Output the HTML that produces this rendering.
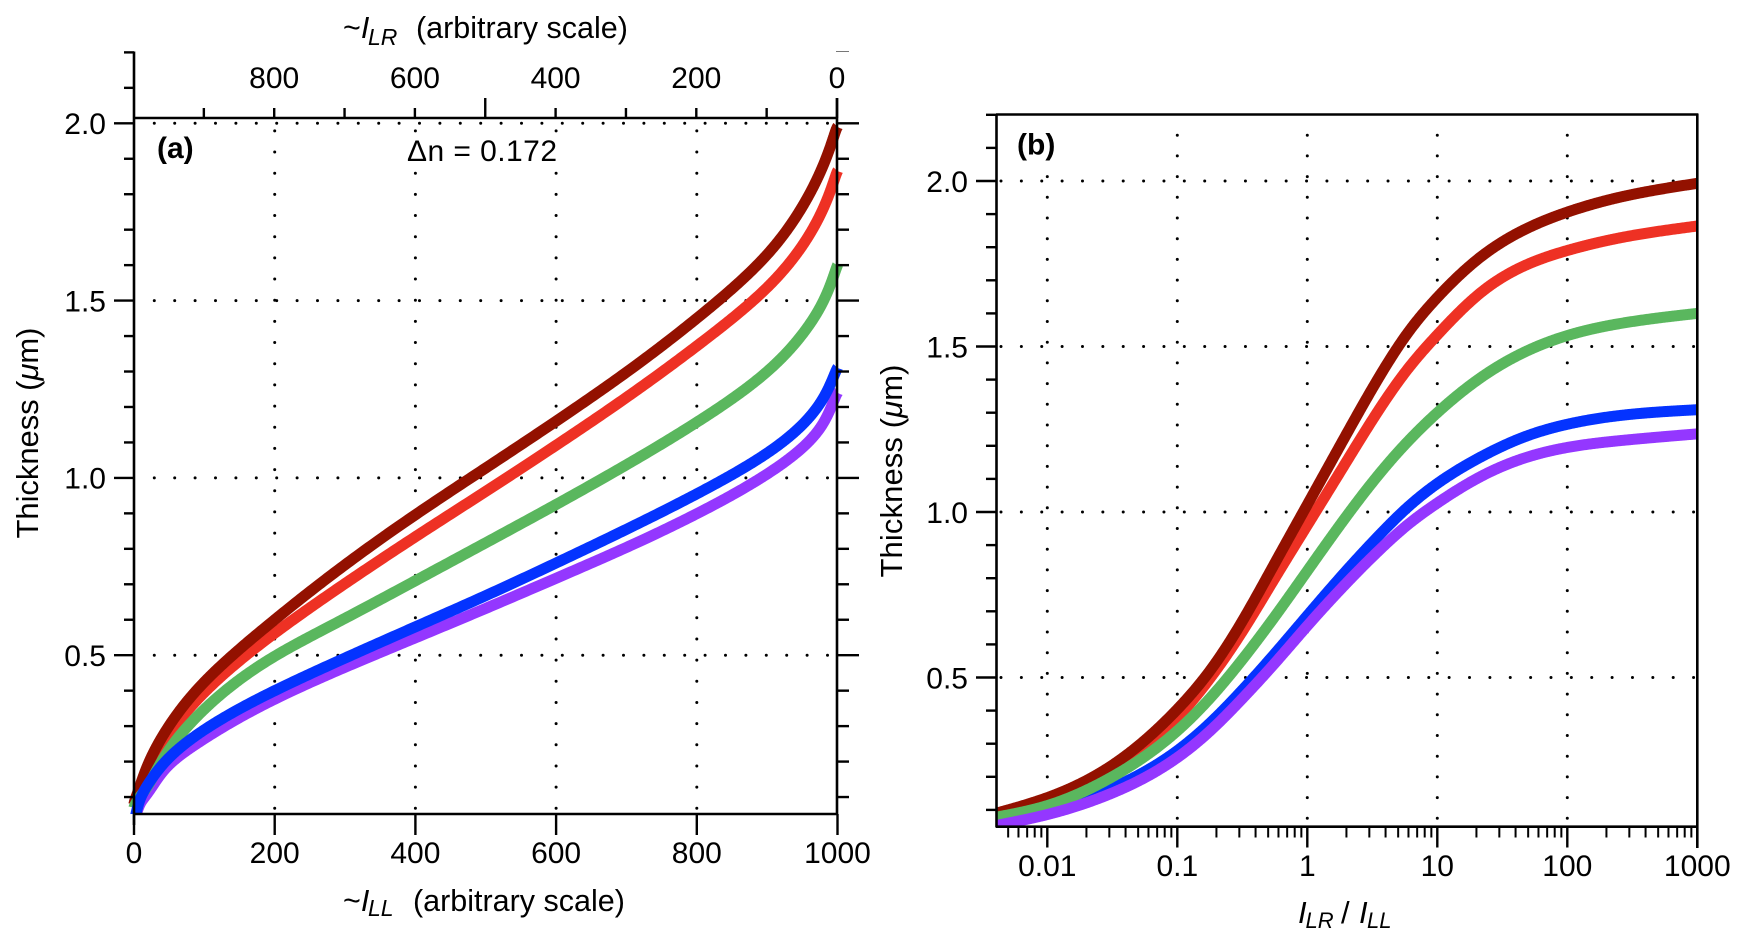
<!DOCTYPE html>
<html lang="en">
<head>
<meta charset="utf-8">
<title>Thickness vs intensity</title>
<style>
html,body{margin:0;padding:0;background:#fff;}
svg{display:block;font-family:"Liberation Sans",sans-serif;fill:#000;}
</style>
</head>
<body>
<svg id="chart" xmlns="http://www.w3.org/2000/svg" width="1748" height="947" viewBox="0 0 1748 947">
  <defs>
    <clipPath id="clip-a"><rect x="128" y="100" width="730" height="714"/></clipPath>
    <clipPath id="clip-b"><rect x="996" y="114" width="701" height="714"/></clipPath>
  </defs>
  <rect x="0" y="0" width="1748" height="947" fill="#fff"/>

  <g id="grid-a"></g>
  <g id="grid-b"></g>

  <rect x="405" y="140" width="155" height="24" fill="#fff"/>
  <rect x="1012" y="126" width="48" height="40" fill="#fff"/>

  <g id="curves-a" clip-path="url(#clip-a)"></g>
  <g id="curves-b" clip-path="url(#clip-b)"></g>

  <g id="axes-a"></g>
  <g id="axes-b"></g>

  <text font-size="30.5" y="38"><tspan x="343">~</tspan><tspan font-style="italic">I</tspan><tspan x="368" y="45" font-style="italic" font-size="23">LR</tspan><tspan x="416" y="38">(arbitrary scale)</tspan></text>
  <text font-size="30.5" y="911"><tspan x="343">~</tspan><tspan font-style="italic">I</tspan><tspan x="368" y="916" font-style="italic" font-size="23">LL</tspan><tspan x="413" y="911">(arbitrary scale)</tspan></text>
  <text font-size="31" text-anchor="middle" textLength="211" lengthAdjust="spacing" transform="translate(38 433) rotate(-90)">Thickness (<tspan font-style="italic">μ</tspan>m)</text>
  <text font-size="31" text-anchor="middle" textLength="213" lengthAdjust="spacing" transform="translate(902 471) rotate(-90)">Thickness (<tspan font-style="italic">μ</tspan>m)</text>
  <text x="157" y="158" font-size="30" font-weight="bold">(a)</text>
  <text x="1017" y="154.5" font-size="30" font-weight="bold">(b)</text>
  <text x="407" y="161" font-size="30" textLength="150" lengthAdjust="spacing">Δn = 0.172</text>
  <text font-size="31" y="923"><tspan x="1298" font-style="italic">I</tspan><tspan x="1305.5" y="928" font-style="italic" font-size="22">LR</tspan><tspan x="1341" y="923">/</tspan><tspan x="1359" font-style="italic">I</tspan><tspan x="1367" y="928" font-style="italic" font-size="22">LL</tspan></text>
</svg>

<script>
// Panel (a): thickness against ~I_LL
const intensityLL = [0, 2, 10, 24, 47, 95, 200, 300, 400, 500, 600, 700, 800, 900, 950, 975, 990, 1000];
const aDarkRed = [0.08, 0.095, 0.14, 0.21, 0.292, 0.414, 0.60, 0.755, 0.896, 1.028, 1.16, 1.298, 1.45, 1.63, 1.765, 1.86, 1.935, 1.99];
const aRed = [0.08, 0.09, 0.125, 0.178, 0.265, 0.385, 0.562, 0.702, 0.834, 0.962, 1.092, 1.227, 1.372, 1.537, 1.655, 1.74, 1.81, 1.865];
const aGreen = [0.07, 0.08, 0.105, 0.146, 0.225, 0.338, 0.497, 0.604, 0.71, 0.817, 0.925, 1.037, 1.157, 1.30, 1.405, 1.48, 1.545, 1.60];
const aBlue = [0.03, 0.045, 0.10, 0.148, 0.205, 0.283, 0.40, 0.492, 0.58, 0.668, 0.76, 0.855, 0.955, 1.07, 1.15, 1.21, 1.265, 1.31];
const aPurple = [0.03, 0.04, 0.085, 0.124, 0.185, 0.258, 0.376, 0.466, 0.549, 0.632, 0.717, 0.804, 0.899, 1.011, 1.085, 1.14, 1.195, 1.24];

// Panel (b): thickness against I_LR / I_LL
const ratio = [0.00405, 0.01, 0.0316, 0.1, 0.178, 0.316, 0.562, 1, 2, 3.7, 5.9, 10, 21.8, 46.8, 100, 260, 1000];
const bDarkRed = [0.09, 0.137, 0.235, 0.404, 0.52, 0.67, 0.845, 1.022, 1.235, 1.418, 1.54, 1.648, 1.772, 1.853, 1.906, 1.952, 1.993];
const bRed = [0.082, 0.128, 0.222, 0.379, 0.497, 0.639, 0.80, 0.96, 1.152, 1.319, 1.431, 1.535, 1.664, 1.744, 1.79, 1.829, 1.864];
const bGreen = [0.078, 0.113, 0.2, 0.339, 0.437, 0.554, 0.684, 0.822, 0.987, 1.122, 1.212, 1.30, 1.407, 1.483, 1.533, 1.57, 1.60];
const bBlue = [0.07, 0.095, 0.166, 0.279, 0.362, 0.462, 0.572, 0.687, 0.823, 0.936, 1.014, 1.086, 1.167, 1.227, 1.265, 1.292, 1.309];
const bPurple = [0.053, 0.086, 0.151, 0.258, 0.338, 0.436, 0.543, 0.656, 0.785, 0.89, 0.961, 1.027, 1.108, 1.163, 1.195, 1.216, 1.236];

// Tick values and labels
const thicknessTicks = [0.1, 0.2, 0.3, 0.4, 0.5, 0.6, 0.7, 0.8, 0.9, 1.0, 1.1, 1.2, 1.3, 1.4, 1.5, 1.6, 1.7, 1.8, 1.9, 2.0, 2.1, 2.2];
const thicknessLabels = [0.5, 1.0, 1.5, 2.0];
const bottomTicksA = [0, 200, 400, 600, 800, 1000];
const topTicksA = [0, 100, 200, 300, 400, 500, 600, 700, 800, 900];
const topLabelsA = [0, 200, 400, 600, 800];
const gridLinesA = [200, 400, 600, 800];
const decadeTicks = [0.01, 0.1, 1, 10, 100, 1000];
const decadeLabels = ["0.01", "0.1", "1", "10", "100", "1000"];
const gridLinesB = [0.01, 0.1, 1, 10, 100];
const minorMultipliers = [2, 3, 4, 5, 6, 7, 8, 9];
const minorDecades = [0.001, 0.01, 0.1, 1, 10, 100];

// Axis functions
const xA = v => 134 + v * 0.7035;
const xTop = v => 837 - v * 0.7035;
const yA = v => 123.3 + (2 - v) * 354.6;
const xB = v => 1307.3 + 130 * Math.log10(v);
const yB = v => 181 + (2 - v) * 331;

const SVG_NS = 'http://www.w3.org/2000/svg';
function mk(parent, tag, props, text) {
  const el = document.createElementNS(SVG_NS, tag);
  for (const k in props) el.setAttribute(k, props[k]);
  if (text !== undefined) el.textContent = text;
  parent.appendChild(el);
  return el;
}
function strokeLine(parent, x1, y1, x2, y2, w, color) {
  return mk(parent, 'line', {x1: x1, y1: y1, x2: x2, y2: y2, stroke: color || '#000', 'stroke-width': w || 2.4});
}
function dotted(parent, x1, y1, x2, y2, gap) {
  return mk(parent, 'line', {x1: x1, y1: y1, x2: x2, y2: y2, stroke: '#000', 'stroke-width': 3, 'stroke-linecap': 'round', 'stroke-dasharray': '0 ' + gap});
}
// Natural cubic spline through (us, vs)
function naturalSpline(us, vs) {
  const n = us.length, a = new Array(n).fill(0), c = new Array(n).fill(0), z = new Array(n).fill(0);
  for (let i = 1; i < n - 1; i++) {
    const h0 = us[i] - us[i - 1], h1 = us[i + 1] - us[i];
    const p = h0 * a[i - 1] + 2 * (h0 + h1);
    a[i] = -h1 / p;
    const r = 6 * ((vs[i + 1] - vs[i]) / h1 - (vs[i] - vs[i - 1]) / h0);
    c[i] = (r - h0 * c[i - 1]) / p;
  }
  for (let i = n - 2; i > 0; i--) z[i] = a[i] * z[i + 1] + c[i];
  return u => {
    let k = 0;
    while (k < n - 2 && u > us[k + 1]) k++;
    const h = us[k + 1] - us[k], A = (us[k + 1] - u) / h, B = (u - us[k]) / h;
    return A * vs[k] + B * vs[k + 1] + ((A * A * A - A) * z[k] + (B * B * B - B) * z[k + 1]) * h * h / 6;
  };
}
// The interpolation coordinate for each panel keeps the spline well behaved
const uA = v => Math.log10((v + 1) / (1001 - v));
const uAInverse = u => { const r = Math.pow(10, u); return (1001 * r - 1) / (1 + r); };
const uB = v => Math.log10(v);
const uBInverse = u => Math.pow(10, u);
function curve(parent, xVals, yVals, toU, fromU, xFn, yFn, color) {
  const us = xVals.map(toU);
  const spline = naturalSpline(us, yVals);
  const u0 = us[0], u1 = us[us.length - 1], N = 900;
  let p = '';
  for (let i = 0; i <= N; i++) {
    const u = u0 + (u1 - u0) * i / N;
    p += (i ? 'L' : 'M') + xFn(fromU(u)).toFixed(2) + ' ' + yFn(spline(u)).toFixed(2);
  }
  return mk(parent, 'path', {d: p, fill: 'none', stroke: color, 'stroke-width': 11, 'stroke-linejoin': 'round'});
}

const COLORS = {darkRed: '#931100', red: '#EE3124', green: '#5AB75E', blue: '#0433FF', purple: '#9437FF'};
const gridA = document.getElementById('grid-a');
const gridB = document.getElementById('grid-b');
const curvesA = document.getElementById('curves-a');
const curvesB = document.getElementById('curves-b');
const axesA = document.getElementById('axes-a');
const axesB = document.getElementById('axes-b');

// ----- Grids -----
gridLinesA.forEach(v => {
  const el = dotted(gridA, xA(v), 808.3, xA(v), 125, 21.17);
  
  
});
thicknessLabels.forEach(v => {
  const el = dotted(gridA, 154.3, yA(v), 836, yA(v), 20.4);
  
  
});
gridLinesB.forEach(v => {
  const el = dotted(gridB, xB(v), 818.3, xB(v), 120, 20.7);
  
  
});
thicknessLabels.forEach(v => {
  const el = dotted(gridB, 1001, yB(v), 1697, yB(v), 20.37);
  
  
});

// ----- Curves, panel (a) -----
const a1 = curve(curvesA, intensityLL, aPurple, uA, uAInverse, xA, yA, COLORS.purple);


const a2 = curve(curvesA, intensityLL, aRed, uA, uAInverse, xA, yA, COLORS.red);


const a3 = curve(curvesA, intensityLL, aDarkRed, uA, uAInverse, xA, yA, COLORS.darkRed);


const a4 = curve(curvesA, intensityLL, aGreen, uA, uAInverse, xA, yA, COLORS.green);


const a5 = curve(curvesA, intensityLL, aBlue, uA, uAInverse, xA, yA, COLORS.blue);



// ----- Curves, panel (b) -----
const b1 = curve(curvesB, ratio, bRed, uB, uBInverse, xB, yB, COLORS.red);


const b2 = curve(curvesB, ratio, bDarkRed, uB, uBInverse, xB, yB, COLORS.darkRed);


const b3 = curve(curvesB, ratio, bBlue, uB, uBInverse, xB, yB, COLORS.blue);


const b4 = curve(curvesB, ratio, bGreen, uB, uBInverse, xB, yB, COLORS.green);


const b5 = curve(curvesB, ratio, bPurple, uB, uBInverse, xB, yB, COLORS.purple);



// ----- Axes, panel (a) -----
const aLeft = strokeLine(axesA, 134, 51.5, 134, 825, 2.6);


const aRight = strokeLine(axesA, 837, 98, 837, 815, 2.6);


const aTop = strokeLine(axesA, 133, 118, 838, 118, 2.6);


const aBottom = strokeLine(axesA, 133, 814, 838, 814, 2.6);


const aFaint = strokeLine(axesA, 836, 51.5, 849, 51.5, 1, '#777');



thicknessTicks.forEach(v => {
  const major = thicknessLabels.includes(v);
  const left = strokeLine(axesA, major ? 114 : 124, yA(v), 134, yA(v));
  
  
  if (v <= 2.0) {
    const right = strokeLine(axesA, 837, yA(v), major ? 859 : 849, yA(v));
    
    
  }
});
thicknessLabels.forEach(v => {
  const el = mk(axesA, 'text', {x: 106, y: yA(v) + 10.8, 'font-size': 30, 'text-anchor': 'end'}, v.toFixed(1));
  
  
});
bottomTicksA.forEach(v => {
  const tick = strokeLine(axesA, xA(v), 814, xA(v), 835);
  
  
  const el = mk(axesA, 'text', {x: xA(v), y: 863, 'font-size': 30, 'text-anchor': 'middle'}, String(v));
  
  
});
topTicksA.forEach(v => {
  const tick = strokeLine(axesA, xTop(v), 118, xTop(v), v % 500 === 0 ? 98 : 108);
  
  
});
topLabelsA.forEach(v => {
  const el = mk(axesA, 'text', {x: xTop(v), y: 88, 'font-size': 30, 'text-anchor': 'middle'}, String(v));
  
  
});

// ----- Axes, panel (b) -----
const bLeft = strokeLine(axesB, 996.5, 114.5, 996.5, 827.5, 2.6);


const bRight = strokeLine(axesB, 1697.3, 113.5, 1697.3, 848, 2.6);


const bTop = strokeLine(axesB, 996, 114.5, 1698, 114.5, 2.6);


const bBottom = strokeLine(axesB, 996, 826.7, 1698, 826.7, 2.6);



thicknessTicks.forEach(v => {
  const major = thicknessLabels.includes(v);
  const tick = strokeLine(axesB, major ? 976 : 986, yB(v), 996.5, yB(v));
  
  
});
thicknessLabels.forEach(v => {
  const el = mk(axesB, 'text', {x: 968, y: yB(v) + 10.8, 'font-size': 30, 'text-anchor': 'end'}, v.toFixed(1));
  
  
});
decadeTicks.forEach((v, i) => {
  const tick = strokeLine(axesB, xB(v), 826.7, xB(v), 847.5);
  
  
  const el = mk(axesB, 'text', {x: xB(v), y: 876, 'font-size': 30, 'text-anchor': 'middle'}, decadeLabels[i]);
  
  
});
minorDecades.forEach(d => {
  minorMultipliers.forEach(m => {
    const v = d * m;
    if (xB(v) < 996 || xB(v) > 1698) return;
    const tick = strokeLine(axesB, xB(v), 826.7, xB(v), 837.5, 2);
    
    
  });
});
</script>
</body>
</html>
